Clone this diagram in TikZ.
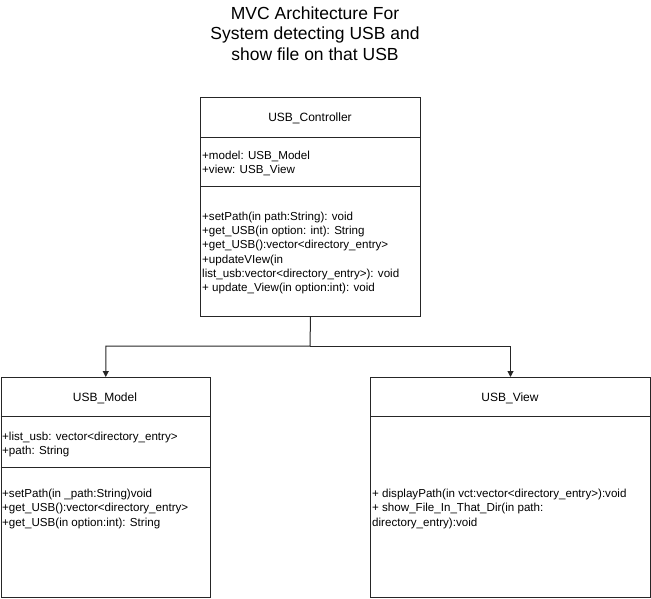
\documentclass[tikz,border=0pt]{standalone}
\usepackage{fontspec}
\setmainfont{Liberation Sans}
\usetikzlibrary{arrows.meta}
\begin{document}
\begin{tikzpicture}[x=1pt,y=-1pt,
  box/.style={draw=black!85,line width=1pt},
  sep/.style={draw=black!85,line width=1pt},
  hdr/.style={anchor=base,inner sep=0,font=\fontsize{12}{14}\selectfont},
  body/.style={anchor=north west,inner sep=0,align=left,font=\fontsize{11.6}{14.3}\selectfont},
  conn/.style={draw=black!85,line width=1pt,-{Triangle[length=6pt,width=6pt]}}]
\useasboundingbox (0,0) rectangle (651,598);
% title
\node[anchor=base,inner sep=0,align=center,font=\fontsize{17.5}{20.5}\selectfont] (title) at (315,60) {MVC Architecture For\\System detecting USB and\\show file on that USB};
% controller
\node[box,minimum width=220pt,minimum height=219pt,inner sep=0,anchor=north west] (ctrl) at (200,97) {};
\draw[sep] (200,137) -- (420,137);
\draw[sep] (200,186) -- (420,186);
\node[hdr] (ctrlname) at (310,121.5) {USB\_Controller};
\node[body] (ctrlattr) at (202,151) {+model: USB\_Model\\+view: USB\_View};
\node[body] (ctrlops) at (202,211.5) {+setPath(in path:String): void\\+get\_USB(in option: int): String\\+get\_USB():vector<directory\_entry>\\+updateVIew(in\\list\_usb:vector<directory\_entry>): void\\+ update\_View(in option:int): void};
% model
\node[box,minimum width=209.5pt,minimum height=220pt,inner sep=0,anchor=north west] (model) at (0.5,377) {};
\draw[sep] (0.5,416) -- (210,416);
\draw[sep] (0.5,467) -- (210,467);
\node[hdr] (modelname) at (105,401.5) {USB\_Model};
\node[body] (modelattr) at (2,432) {+list\_usb: vector<directory\_entry>\\+path: String};
\node[body] (modelops) at (2,489) {+setPath(in \_path:String)void\\+get\_USB():vector<directory\_entry>\\+get\_USB(in option:int): String};
% view
\node[box,minimum width=280pt,minimum height=220pt,inner sep=0,anchor=north west] (view) at (370,377) {};
\draw[sep] (370,416) -- (650,416);
\node[hdr] (viewname) at (510,401.5) {USB\_View};
\node[body] (viewops) at (372,489) {+ displayPath(in vct:vector<directory\_entry>):void\\+ show\_File\_In\_That\_Dir(in path:\\directory\_entry):void};
% connectors
\coordinate (junc) at (310,346);
\draw[conn] (ctrl.south) -- (junc) -| (model.north);
\draw[conn] (junc) -| (view.north);
\end{tikzpicture}
\end{document}
